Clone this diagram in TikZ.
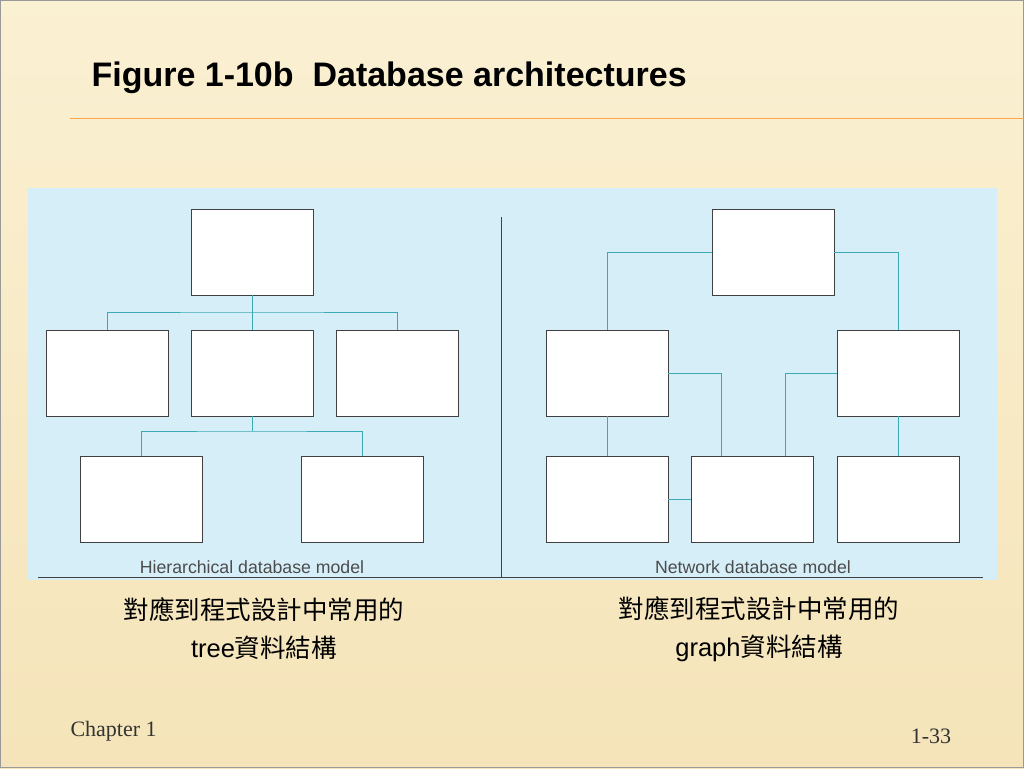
\documentclass[tikz,border=0pt]{standalone}
\usepackage{fontspec}
\setmainfont{Liberation Sans}
\newfontfamily\cjk{Noto Sans CJK TC}
\newfontfamily\tms{Liberation Serif}
\definecolor{bgtop}{RGB}{250,240,210}
\definecolor{bgbot}{RGB}{245,228,185}
\definecolor{panel}{RGB}{214,238,248}
\definecolor{conn}{RGB}{60,170,180}
\begin{document}
\begin{tikzpicture}[x=1pt,y=-1pt,
  bx/.style={draw=black!75,fill=white,line width=0.8pt,minimum width=122pt,minimum height=86pt,inner sep=0pt},
  cn/.style={draw=conn,line width=0.9pt},
  lbl/.style={font=\fontsize{17.7}{20}\selectfont,text=black!70},
  zh/.style={font=\fontsize{25.5}{38}\selectfont,align=center}]
\useasboundingbox (0,0) rectangle (1024,768);
\fill[top color=bgtop,bottom color=bgbot] (0,0) rectangle (1024,768);
\draw[black!40] (0.5,0.5) rectangle (1023.5,767.5);
\node[anchor=west,font=\bfseries\fontsize{34}{38}\selectfont] (title) at (88,78) {Figure 1-10b\ \ Database architectures};
\draw[orange!70,line width=1pt] (70,118) -- (1024,118);
\fill[panel] (28,188) rectangle (997,580);
% hierarchical
\node[bx] (r) at (252,252) {};
\node[bx] (a) at (107,373) {};
\node[bx] (b) at (252,373) {};
\node[bx] (c) at (397,373) {};
\node[bx] (d) at (141,499) {};
\node[bx] (e) at (362,499) {};
\coordinate (j1) at (252,312);
\coordinate (j2) at (252,431);
\draw[cn] (r.south) -- (j1);
\draw[cn] (a.north) |- (j1) -| (c.north);
\draw[cn] (j1) -- (b.north);
\draw[cn] (b.south) -- (j2);
\draw[cn] (d.north) |- (j2) -| (e.north);
% network
\node[bx] (n0) at (773,252) {};
\node[bx] (n1) at (607,373) {};
\node[bx] (n2) at (898,373) {};
\node[bx] (n3) at (607,499) {};
\node[bx] (n4) at (752,499) {};
\node[bx] (n5) at (898,499) {};
\draw[cn] (n0.west) -| (n1.north);
\draw[cn] (n0.east) -| (n2.north);
\draw[cn] (n1.east) -| ([xshift=-31pt]n4.north);
\draw[cn] (n2.west) -| ([xshift=33pt]n4.north);
\draw[cn] (n1.south) -- (n3.north);
\draw[cn] (n2.south) -- (n5.north);
\draw[cn] (n3.east) -- (n4.west);
% divider
\coordinate (v1) at (501,217); \coordinate (v2) at (501,578);
\draw[black!75] (v1) -- (v2);
\coordinate (h1) at (38,577); \coordinate (h2) at (983,577);
\draw[black!75] (h1) -- (h2);
\node[lbl] (l1) at (252,567) {Hierarchical database model};
\node[lbl] (l2) at (753,567) {Network database model};
\node[zh] (z1) at (264,629) {{\cjk 對應到程式設計中常用的}\\tree{\cjk 資料結構}};
\node[zh] (z2) at (759,629) {{\cjk 對應到程式設計中常用的}\\graph{\cjk 資料結構}};
\node[anchor=west,font=\tms\fontsize{22}{24}\selectfont,text=black!80] (ch) at (67,731) {Chapter 1};
\node[font=\tms\fontsize{22}{24}\selectfont,text=black!80] (pg) at (931,736) {1-33};
\end{tikzpicture}
\end{document}
